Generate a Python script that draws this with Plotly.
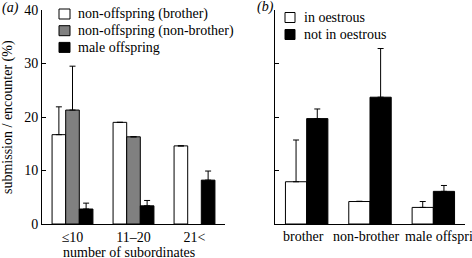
import plotly.graph_objects as go

W, H = 472, 258

# Panel (a)
cats_a = ["≤10", "11–20", "21<"]
brother_a = [16.7, 19.0, 14.6]
brother_a_err = [5.2, 0, 0]
nonbrother_a = [21.3, 16.3, None]
nonbrother_a_err = [8.2, 0, 0]
offspring_a = [2.8, 3.4, 8.2]
offspring_a_err = [1.1, 1.0, 1.7]

# Panel (b)
cats_b = ["brother", "non-brother", "male offspring"]
oestrous_b = [7.9, 4.2, 3.1]
oestrous_b_err = [7.8, 0.05, 1.1]
notoestrous_b = [19.7, 23.7, 6.1]
notoestrous_b_err = [1.8, 9.1, 1.1]

legend_a = ["non-offspring (brother)", "non-offspring (non-brother)", "male offspring"]
legend_b = ["in oestrous", "not in oestrous"]
colors_a = ["white", "#808080", "black"]
colors_b = ["white", "black"]

FONT = "Liberation Serif, Times New Roman, serif"


def px(x):
    return x / W


def py(y):
    return 1 - y / H


def err(vals):
    return dict(type="data", symmetric=False, array=vals, arrayminus=[0] * len(vals),
                color="black", thickness=1, width=3)


fig = go.Figure()
line = dict(color="black", width=1)

for name, vals, e, c in zip(legend_a, [brother_a, nonbrother_a, offspring_a],
                            [brother_a_err, nonbrother_a_err, offspring_a_err], colors_a):
    fig.add_trace(go.Bar(x=cats_a, y=vals, name=name, marker=dict(color=c, line=line),
                         error_y=err(e), xaxis="x", yaxis="y", showlegend=False))

for name, vals, e, c in zip(legend_b, [oestrous_b, notoestrous_b],
                            [oestrous_b_err, notoestrous_b_err], colors_b):
    fig.add_trace(go.Bar(x=cats_b, y=vals, name=name, marker=dict(color=c, line=line),
                         error_y=err(e), xaxis="x2", yaxis="y2", showlegend=False))

ydom = [py(224), py(10)]
tf = dict(family=FONT, size=14, color="black")
axcommon = dict(showline=True, linecolor="black", linewidth=1, showgrid=False, zeroline=False,
                automargin=False, tickfont=tf)

fig.update_layout(
    width=W, height=H,
    margin=dict(l=0, r=0, t=0, b=0, autoexpand=False),
    paper_bgcolor="white", plot_bgcolor="white",
    barmode="group", bargap=0.33, bargroupgap=0,
    showlegend=False,
    font=dict(family=FONT, size=13, color="black"),
    xaxis=dict(domain=[px(42), px(225)], anchor="y", ticks="", tickangle=0, **axcommon),
    yaxis=dict(domain=ydom, anchor="x", range=[0, 40], dtick=10, ticks="inside", ticklen=4,
               tickcolor="black", **axcommon),
    xaxis2=dict(domain=[px(275), px(465)], anchor="y2", ticks="", tickangle=0,
                range=[-0.5, len(cats_b) - 0.5], autorange=False,
                showticklabels=False, **axcommon),
    yaxis2=dict(domain=ydom, anchor="x2", range=[0, 40], dtick=10, ticks="inside", ticklen=4,
                tickcolor="black", showticklabels=False, **axcommon),
)

shapes = []
annotations = []
lf = dict(family=FONT, size=14, color="black")
# legend (a)
for i, (name, c) in enumerate(zip(legend_a, colors_a)):
    cy = 14 + i * 16.7
    shapes.append(dict(type="rect", xref="paper", yref="paper", x0=px(59), x1=px(70),
                       y0=py(cy + 5), y1=py(cy - 5), fillcolor=c,
                       line=dict(color="black", width=1)))
    annotations.append(dict(text=name, x=px(76), y=py(cy), xref="paper", yref="paper",
                            showarrow=False, xanchor="left", yanchor="middle", font=lf))
# legend (b)
for i, (name, c) in enumerate(zip(legend_b, colors_b)):
    cy = 17.5 + i * 17
    shapes.append(dict(type="rect", xref="paper", yref="paper", x0=px(285), x1=px(295),
                       y0=py(cy + 5), y1=py(cy - 5), fillcolor=c,
                       line=dict(color="black", width=1)))
    annotations.append(dict(text=name, x=px(302), y=py(cy), xref="paper", yref="paper",
                            showarrow=False, xanchor="left", yanchor="middle", font=lf))

# category labels of panel (b), placed on the category axis (last one sits right of its group)
label_shift_b = [-3, -4, 13]
for cat, sh in zip(cats_b, label_shift_b):
    annotations.append(dict(text=cat, x=cat, xref="x2", y=py(236), yref="paper",
                            xshift=sh, showarrow=False, xanchor="center", yanchor="middle",
                            font=lf))

annotations += [
    dict(text="<i>(a)</i>", x=0, y=py(8), xref="paper", yref="paper", showarrow=False,
         font=lf, xanchor="left", yanchor="middle"),
    dict(text="<i>(b)</i>", x=px(255), y=py(7), xref="paper", yref="paper", showarrow=False,
         font=lf, xanchor="left", yanchor="middle"),
    dict(text="submission / encounter (%)", x=px(8), y=py(117), xref="paper", yref="paper",
         showarrow=False, textangle=-90, font=lf, xanchor="center", yanchor="middle"),
    dict(text="number of subordinates", x=px(129), y=py(252), xref="paper", yref="paper",
         showarrow=False, font=lf, xanchor="center", yanchor="middle"),
]

fig.update_layout(shapes=shapes, annotations=annotations)
fig.write_html("out.html")
